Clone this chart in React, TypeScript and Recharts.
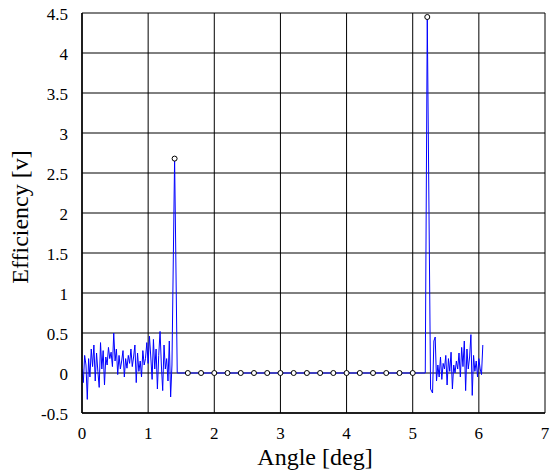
import { ComposedChart, Line, XAxis, YAxis, CartesianGrid } from 'recharts';

// Left noise band: samples every 0.02 deg starting at 0
const leftNoiseStart = 0;
const leftNoiseStep = 0.02;
const leftNoise = [
  0.05, -0.12, 0.22, 0.1, -0.33, 0.18, -0.05, 0.3, 0.08, 0.35,
  -0.1, 0.25, 0.02, -0.18, 0.38, 0.05, 0.28, -0.15, 0.2, 0.1,
  0.32, 0.18, 0.26, 0.08, 0.5, 0.15, 0.3, -0.02, 0.22, 0.05,
  0.15, 0.28, -0.05, 0.18, 0.06, 0.22, 0.12, 0.3, 0.08, 0.2,
  0.35, -0.12, 0.25, 0.02, 0.15, -0.05, 0.28, 0.1, 0.18, 0.38,
  0.12, 0.46, 0.2, -0.08, 0.42, 0.05, 0.3, -0.2, 0.22, 0.52,
  0.1, -0.22, 0.35, 0.05, 0.18, -0.1, 0.4, -0.3,
];

// Spikes and the flat segment between them
const spikeX = [1.36, 1.4, 1.44, 5.19, 5.22, 5.27];
const spikeY = [0.1, 2.68, 0, 0, 4.45, -0.2];

// Right noise band: samples every 0.02 deg starting at 5.30
const rightNoiseStart = 5.3;
const rightNoiseStep = 0.02;
const rightNoise = [
  -0.25, 0.4, 0.45, -0.1, 0.1, -0.05, 0.2, -0.08, 0.12, 0.05,
  0.22, -0.15, 0.18, 0.02, 0.26, -0.2, 0.1, 0.0, 0.15, 0.05,
  0.25, -0.05, 0.32, 0.08, 0.4, -0.22, 0.3, 0.05, 0.2, 0.48,
  -0.28, 0.22, 0.02, 0.15, -0.05, 0.18, 0.05, -0.02, 0.35,
];

// Sampled points drawn with circle markers
const markerX = [1.4, 1.6, 1.8, 2.0, 2.2, 2.4, 2.6, 2.8, 3.0, 3.2, 3.4, 3.6, 3.8, 4.0, 4.2, 4.4, 4.6, 4.8, 5.0, 5.22];
const markerY = [2.68, 0, 0, 0, 0, 0, 0, 0, 0, 0, 0, 0, 0, 0, 0, 0, 0, 0, 0, 4.45];

const xTicks = [0, 1, 2, 3, 4, 5, 6, 7];
const yTicks = [-0.5, 0, 0.5, 1, 1.5, 2, 2.5, 3, 3.5, 4, 4.5];

const FONT = 'Liberation Serif, DejaVu Serif, serif';

const signalData = [
  ...leftNoise.map((y, i) => ({ x: leftNoiseStart + i * leftNoiseStep, y })),
  ...spikeX.map((x, i) => ({ x, y: spikeY[i] })),
  ...rightNoise.map((y, i) => ({ x: rightNoiseStart + i * rightNoiseStep, y })),
];

const markerData = markerX.map((x, i) => ({ x, y: markerY[i] }));

export default function App() {
  return (
    <div style={{ position: 'absolute', left: 0, top: 0, background: '#fff', fontFamily: FONT }}>
      <ComposedChart width={552} height={473} margin={{ top: 13, right: 7, left: 0, bottom: 0 }}>
        <CartesianGrid stroke="#000" strokeWidth={1} />
        <XAxis
          type="number"
          dataKey="x"
          domain={[0, 7]}
          ticks={xTicks}
          height={60}
          tickLine={false}
          tickSize={0}
          tickMargin={14}
          axisLine={{ stroke: '#000', strokeWidth: 1.5 }}
          tick={{ fill: '#000', fontSize: 17, fontFamily: FONT }}
          allowDataOverflow
          label={{
            content: () => (
              <text x={315} y={465} textAnchor="middle" fill="#000" fontSize={24} style={{ fontFamily: FONT }}>
                Angle [deg]
              </text>
            ),
          }}
        />
        <YAxis
          type="number"
          dataKey="y"
          domain={[-0.5, 4.5]}
          ticks={yTicks}
          width={82}
          tickLine={false}
          tickSize={0}
          tickMargin={14}
          axisLine={{ stroke: '#000', strokeWidth: 1.5 }}
          tick={{ fill: '#000', fontSize: 17, fontFamily: FONT, dy: 1 }}
          tickFormatter={(v) => String(v)}
          allowDataOverflow
          label={{
            content: () => (
              <text
                x={28}
                y={217}
                transform="rotate(-90 28 217)"
                textAnchor="middle"
                fill="#000"
                fontSize={24}
                style={{ fontFamily: FONT }}
              >
                Efficiency [v]
              </text>
            ),
          }}
        />
        <Line
          data={signalData}
          dataKey="y"
          type="linear"
          stroke="#0000ff"
          strokeWidth={1}
          dot={false}
          activeDot={false}
          isAnimationActive={false}
        />
        <Line
          data={markerData}
          dataKey="y"
          type="linear"
          stroke="none"
          dot={{ r: 2.5, stroke: '#000', strokeWidth: 1, fill: '#fff' }}
          activeDot={false}
          isAnimationActive={false}
        />
      </ComposedChart>
    </div>
  );
}
